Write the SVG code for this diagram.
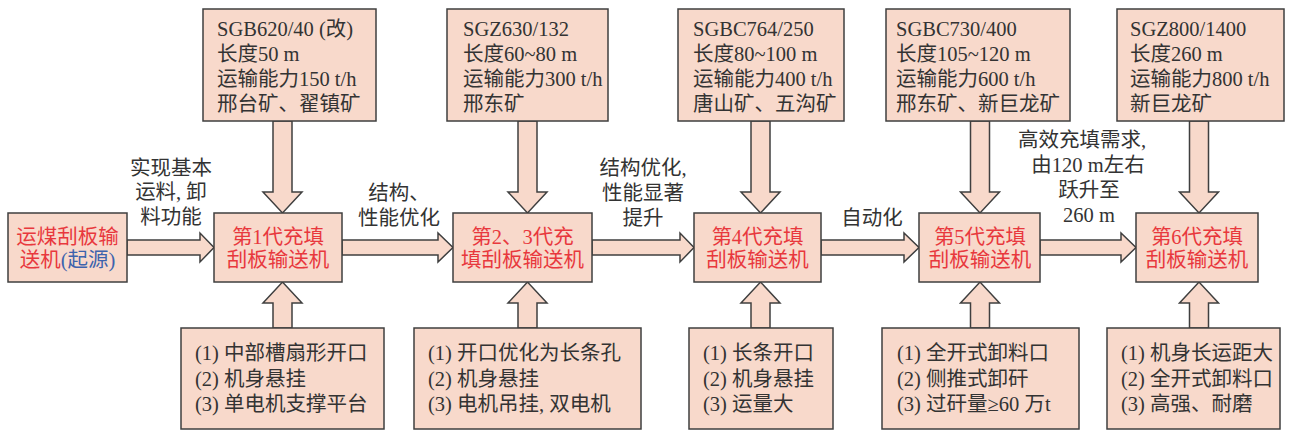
<svg xmlns="http://www.w3.org/2000/svg" width="1290" height="431" viewBox="0 0 1290 431">
<style>
.box{fill:#f8d9cb;stroke:#3f3f3f;stroke-width:1.5}
.arr{fill:#f8d9cb;stroke:#3f3f3f;stroke-width:1.5;stroke-linejoin:miter}
text{font-family:"Liberation Serif","Noto Sans CJK SC",serif;font-size:20.5px;fill:#333}
.red{fill:#e8383d}
.blue{fill:#3d63ad}
.mid{text-anchor:middle}
</style>
<rect width="1290" height="431" fill="#fff"/>
<g id="connectors">
<polygon class="arr" points="127,240 200,240 200,233 214,247.5 200,262 200,255 127,255"/>
<polygon class="arr" points="342,240 438,240 438,233 453,247.5 438,262 438,255 342,255"/>
<polygon class="arr" points="592,240 680,240 680,233 694,247.5 680,262 680,255 592,255"/>
<polygon class="arr" points="821,240 904,240 904,233 919,247.5 904,262 904,255 821,255"/>
<polygon class="arr" points="1040,240 1121,240 1121,233 1136,247.5 1121,262 1121,255 1040,255"/>
<polygon class="arr" points="273,121 292,121 292,192 302,192 282.5,213 263,192 273,192"/>
<polygon class="arr" points="518,121 537,121 537,192 547,192 527.5,213 508,192 518,192"/>
<polygon class="arr" points="751,121 770,121 770,192 780,192 760.5,213 741,192 751,192"/>
<polygon class="arr" points="970.5,121 989.5,121 989.5,192 999.5,192 980,213 960.5,192 970.5,192"/>
<polygon class="arr" points="1189.5,121 1208.5,121 1208.5,192 1218.5,192 1199,213 1179.5,192 1189.5,192"/>
<polygon class="arr" points="273,328 292,328 292,303 302,303 282.5,282 263,303 273,303"/>
<polygon class="arr" points="518,328 537,328 537,303 547,303 527.5,282 508,303 518,303"/>
<polygon class="arr" points="751,328 770,328 770,303 780,303 760.5,282 741,303 751,303"/>
<polygon class="arr" points="970.5,328 989.5,328 989.5,303 999.5,303 980,282 960.5,303 970.5,303"/>
<polygon class="arr" points="1189.5,328 1208.5,328 1208.5,303 1218.5,303 1199,282 1179.5,303 1189.5,303"/>
<text class="mid" x="171" y="175">实现基本</text>
<text class="mid" x="171" y="199">运料, 卸</text>
<text class="mid" x="171" y="224">料功能</text>
<text class="mid" x="399" y="200">结构、</text>
<text class="mid" x="399" y="225">性能优化</text>
<text class="mid" x="643" y="175">结构优化,</text>
<text class="mid" x="643" y="200">性能显著</text>
<text class="mid" x="643" y="225">提升</text>
<text class="mid" x="872" y="225">自动化</text>
<text class="mid" x="1082" y="147">高效充填需求,</text>
<text class="mid" x="1088" y="172">由120 m左右</text>
<text class="mid" x="1089" y="197">跃升至</text>
<text class="mid" x="1089" y="222">260 m</text>
</g>
<g id="origin">
<rect class="box" x="8" y="213" width="119" height="69"/>
<text class="mid red" x="67.5" y="244">运煤刮板输</text>
<text class="mid" x="67.5" y="267"><tspan class="red">送机</tspan><tspan class="blue">(起源)</tspan></text>
</g>
<g id="gen1">
<rect class="box" x="214" y="213" width="128" height="69"/>
<text class="mid red" x="278" y="244">第1代充填</text>
<text class="mid red" x="278" y="267">刮板输送机</text>
</g>
<g id="gen23">
<rect class="box" x="453" y="213" width="139" height="69"/>
<text class="mid red" x="522.5" y="244">第2、3代充</text>
<text class="mid red" x="522.5" y="267">填刮板输送机</text>
</g>
<g id="gen4">
<rect class="box" x="694" y="213" width="127" height="69"/>
<text class="mid red" x="757.5" y="244">第4代充填</text>
<text class="mid red" x="757.5" y="267">刮板输送机</text>
</g>
<g id="gen5">
<rect class="box" x="919" y="213" width="121" height="69"/>
<text class="mid red" x="980" y="244">第5代充填</text>
<text class="mid red" x="980" y="267">刮板输送机</text>
</g>
<g id="gen6">
<rect class="box" x="1136" y="213" width="122" height="69"/>
<text class="mid red" x="1197" y="244">第6代充填</text>
<text class="mid red" x="1197" y="267">刮板输送机</text>
</g>
<g id="spec1">
<rect class="box" x="203" y="9" width="173" height="112"/>
<text x="217" y="36">SGB620/40 (改)</text>
<text x="217" y="61">长度50 m</text>
<text x="217" y="86">运输能力150 t/h</text>
<text x="217" y="111">邢台矿、翟镇矿</text>
</g>
<g id="spec2">
<rect class="box" x="447" y="9" width="161" height="112"/>
<text x="463" y="36">SGZ630/132</text>
<text x="463" y="61">长度60~80 m</text>
<text x="463" y="86">运输能力300 t/h</text>
<text x="463" y="111">邢东矿</text>
</g>
<g id="spec3">
<rect class="box" x="678" y="9" width="166" height="112"/>
<text x="693" y="36">SGBC764/250</text>
<text x="693" y="61">长度80~100 m</text>
<text x="693" y="86">运输能力400 t/h</text>
<text x="693" y="111">唐山矿、五沟矿</text>
</g>
<g id="spec4">
<rect class="box" x="886" y="9" width="184" height="112"/>
<text x="896" y="36">SGBC730/400</text>
<text x="896" y="61">长度105~120 m</text>
<text x="896" y="86">运输能力600 t/h</text>
<text x="896" y="111">邢东矿、新巨龙矿</text>
</g>
<g id="spec5">
<rect class="box" x="1117" y="9" width="167" height="112"/>
<text x="1130" y="36">SGZ800/1400</text>
<text x="1130" y="61">长度260 m</text>
<text x="1130" y="86">运输能力800 t/h</text>
<text x="1130" y="111">新巨龙矿</text>
</g>
<g id="feat1">
<rect class="box" x="181" y="328" width="203" height="101"/>
<text x="195" y="360">(1) 中部槽扇形开口</text>
<text x="195" y="386">(2) 机身悬挂</text>
<text x="195" y="411">(3) 单电机支撑平台</text>
</g>
<g id="feat2">
<rect class="box" x="414" y="328" width="227" height="101"/>
<text x="428" y="360">(1) 开口优化为长条孔</text>
<text x="428" y="386">(2) 机身悬挂</text>
<text x="428" y="411">(3) 电机吊挂, 双电机</text>
</g>
<g id="feat3">
<rect class="box" x="689" y="328" width="144" height="101"/>
<text x="703" y="360">(1) 长条开口</text>
<text x="703" y="386">(2) 机身悬挂</text>
<text x="703" y="411">(3) 运量大</text>
</g>
<g id="feat4">
<rect class="box" x="882" y="328" width="197" height="101"/>
<text x="897" y="360">(1) 全开式卸料口</text>
<text x="897" y="386">(2) 侧推式卸矸</text>
<text x="897" y="411">(3) 过矸量≥60 万t</text>
</g>
<g id="feat5">
<rect class="box" x="1107" y="328" width="173" height="101"/>
<text x="1121" y="360">(1) 机身长运距大</text>
<text x="1121" y="386">(2) 全开式卸料口</text>
<text x="1121" y="411">(3) 高强、耐磨</text>
</g>
</svg>
